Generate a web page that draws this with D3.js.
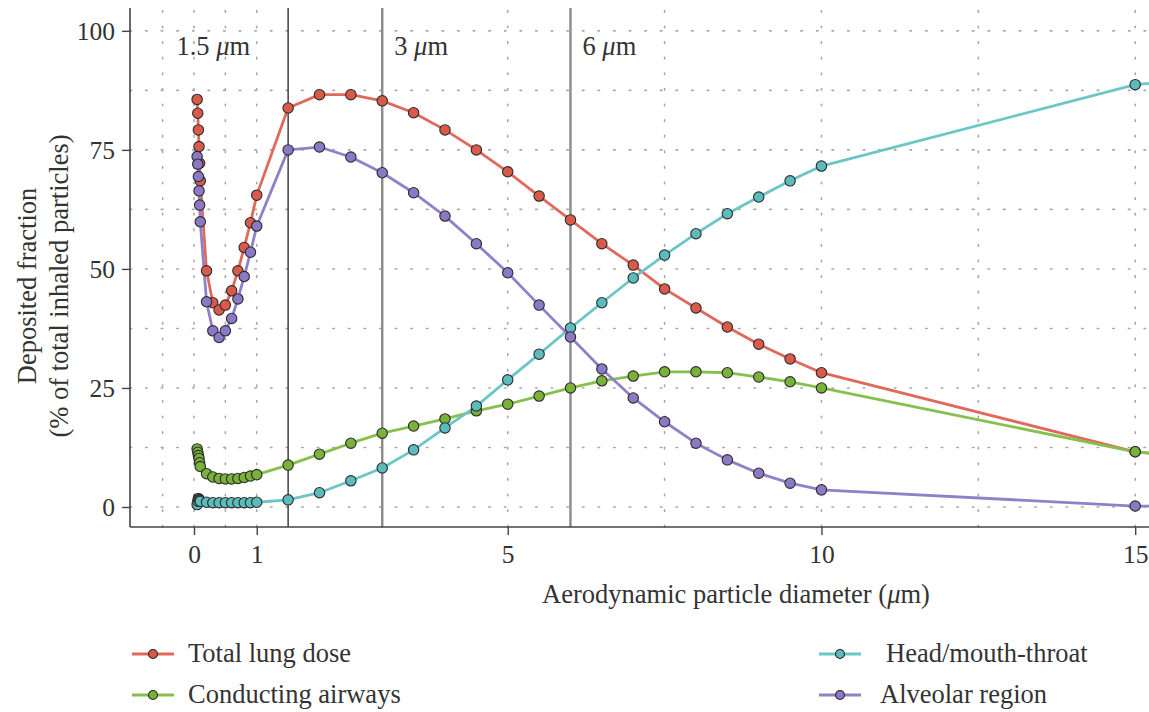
<!DOCTYPE html>
<html>
<head>
<meta charset="utf-8">
<script src="https://cdn.jsdelivr.net/npm/d3@7"></script>
<style>
  body { margin: 0; background: #fff; }
  svg text { font-family: "Liberation Serif", "DejaVu Serif", serif; fill: #333; }
</style>
</head>
<body>
<div id="chart"></div>
<script>
// particle diameters (um)
const diameters = [0.05, 0.06, 0.07, 0.08, 0.09, 0.1,
  0.2, 0.3, 0.4, 0.5, 0.6, 0.7, 0.8, 0.9, 1,
  1.5, 2, 2.5, 3, 3.5, 4, 4.5, 5, 5.5, 6, 6.5, 7, 7.5, 8, 8.5, 9, 9.5, 10, 15, 20];

// deposited fraction (% of total inhaled particles)
const totalLung = [85.6, 82.7, 79.2, 75.7, 72.2, 68.5,
  49.6, 42.9, 41.4, 42.4, 45.4, 49.6, 54.5, 59.7, 65.5,
  83.8, 86.6, 86.6, 85.3, 82.8, 79.2, 75.0, 70.4, 65.3, 60.3, 55.3, 50.8, 45.8, 41.8, 37.8, 34.2, 31.1, 28.2, 11.6, 5];
const conducting = [12.2, 11.5, 10.8, 10.2, 9.3, 8.5,
  7.0, 6.3, 6.0, 5.9, 5.9, 6.0, 6.2, 6.5, 6.8,
  8.8, 11.1, 13.4, 15.5, 17.0, 18.5, 20.2, 21.6, 23.3, 25.0, 26.5, 27.5, 28.4, 28.4, 28.2, 27.3, 26.3, 25.0, 11.6, 5];
const headMouth = [0.5, 1.2, 1.8, 1.6, 1.4, 1.2,
  1.0, 0.9, 0.9, 0.9, 0.9, 0.9, 0.9, 0.9, 1.0,
  1.5, 3.0, 5.5, 8.2, 12.0, 16.6, 21.2, 26.7, 32.1, 37.6, 42.9, 48.1, 52.9, 57.4, 61.6, 65.1, 68.5, 71.6, 88.7, 95];
const alveolar = [73.6, 72.0, 69.4, 66.4, 63.4, 59.9,
  43.1, 37.0, 35.6, 37.0, 39.6, 43.7, 48.4, 53.5, 59.0,
  75.0, 75.6, 73.5, 70.2, 66.0, 61.1, 55.3, 49.2, 42.4, 35.7, 29.0, 22.9, 17.9, 13.4, 9.9, 7.1, 5.0, 3.6, 0.2, 0];

const xTicks = [0, 1, 5, 10, 15];
const yTicks = [0, 25, 50, 75, 100];
const xMinor = [-0.5, 0.5, 3, 7.5, 12.5];
const yMinor = [12.5, 37.5, 62.5, 87.5];
const markers = [1.5, 3, 6];

const series = [
  { name: "Total lung dose", values: totalLung, line: "#e0695b", fill: "#d95a4b" },
  { name: "Conducting airways", values: conducting, line: "#86c04c", fill: "#79b13b" },
  { name: "Head/mouth-throat", values: headMouth, line: "#6cc6c6", fill: "#5cbcbd" },
  { name: "Alveolar region", values: alveolar, line: "#9180c8", fill: "#8b78c6" }
];

const width = 1149, height = 712;
const plotLeft = 130, plotRight = 1149, plotTop = 8, plotBottom = 527;
const fontSize = "26.5px";

const svg = d3.select("#chart").append("svg")
  .attr("width", width)
  .attr("height", height);

const x = d3.scaleLinear().domain([-1.02, 15.22]).range([plotLeft, plotRight]);
const y = d3.scaleLinear().domain([-4.2, 104.8]).range([plotBottom, plotTop]);

svg.append("defs").append("clipPath").attr("id", "plot")
  .append("rect").attr("x", plotLeft).attr("y", plotTop)
  .attr("width", plotRight - plotLeft).attr("height", plotBottom - plotTop);

// dotted grid
const grid = svg.append("g")
  .attr("stroke", "#a8a8a8")
  .attr("stroke-width", 1.6)
  .attr("stroke-dasharray", "1.6,14")
  .attr("stroke-linecap", "round");
grid.selectAll(".gx").data(xTicks.concat(xMinor)).join("line")
  .attr("x1", d => x(d)).attr("x2", d => x(d))
  .attr("y1", plotBottom).attr("y2", plotTop);
grid.selectAll(".gy").data(yTicks.concat(yMinor)).join("line")
  .attr("x1", plotLeft).attr("x2", plotRight)
  .attr("y1", d => y(d)).attr("y2", d => y(d));

// size marker lines
svg.append("g").selectAll("line").data(markers).join("line")
  .attr("x1", d => x(d)).attr("x2", d => x(d))
  .attr("y1", plotTop).attr("y2", plotBottom)
  .attr("stroke", (d, i) => i == 0 ? "#222" : "#8a8a8a")
  .attr("stroke-width", (d, i) => i == 0 ? 1.3 : 2.4);

const labels = svg.append("g").attr("font-size", fontSize);
markers.forEach(function (d, i) {
  let t = labels.append("text")
    .attr("x", i == 0 ? x(d) - 38 : x(d) + 12)
    .attr("y", 55)
    .attr("text-anchor", i == 0 ? "end" : "start");
  t.append("tspan").text(d + " ");
  t.append("tspan").attr("font-style", "italic").text("\u03bc");
  t.append("tspan").text("m");
});

// axes
const xAxis = svg.append("g")
  .attr("transform", `translate(0,${plotBottom})`)
  .call(d3.axisBottom(x).tickValues(xTicks).tickSize(8).tickPadding(10).tickFormat(d3.format("d")));
const yAxis = svg.append("g")
  .attr("transform", `translate(${plotLeft},0)`)
  .call(d3.axisLeft(y).tickValues(yTicks).tickSize(8).tickPadding(7).tickFormat(d3.format("d")));
[xAxis, yAxis].forEach(function (a) {
  a.select(".domain").attr("stroke", "#444").attr("stroke-width", 1.6);
  a.selectAll(".tick line").attr("stroke", "#444").attr("stroke-width", 1.4);
  a.selectAll(".tick text")
    .attr("font-family", "Liberation Serif")
    .attr("font-size", "25.5px").attr("fill", "#333");
});
// drop the domain end caps
xAxis.select(".domain").attr("d", `M${plotLeft},0H${plotRight}`);
yAxis.select(".domain").attr("d", `M0,${plotBottom}V${plotTop}`);

// axis titles
const xt = svg.append("text")
  .attr("x", 736).attr("y", 603)
  .attr("text-anchor", "middle")
  .attr("font-size", fontSize);
xt.append("tspan").text("Aerodynamic particle diameter (");
xt.append("tspan").attr("font-style", "italic").text("\u03bc");
xt.append("tspan").text("m)");

const yt = svg.append("text")
  .attr("transform", "translate(0,286) rotate(-90)")
  .attr("text-anchor", "middle")
  .attr("font-size", fontSize);
yt.append("tspan").attr("x", 0).attr("y", 36).text("Deposited fraction");
yt.append("tspan").attr("x", 0).attr("y", 68).text("(% of total inhaled particles)");

// series
const line = d3.line().x(d => x(d[0])).y(d => y(d[1]));
const plot = svg.append("g").attr("clip-path", "url(#plot)");

series.forEach(function (s) {
  plot.append("path")
    .datum(diameters.map((d, i) => [d, s.values[i]]))
    .attr("d", line)
    .attr("fill", "none")
    .attr("stroke", s.line)
    .attr("stroke-width", 2.8)
    .attr("stroke-linejoin", "round");
});
series.forEach(function (s) {
  plot.append("g").selectAll("circle")
    .data(diameters.map((d, i) => [d, s.values[i]]))
    .join("circle")
    .attr("cx", d => x(d[0]))
    .attr("cy", d => y(d[1]))
    .attr("r", 5.2)
    .attr("fill", s.fill)
    .attr("stroke", "#2b2b2b")
    .attr("stroke-width", 1.1);
});

// legend
const legendPos = [[153, 654], [153, 695], [840, 654], [840, 695]];
const legendTextX = [188, 188, 886, 880];
const legend = svg.append("g");
series.forEach(function (s, i) {
  let g = legend.append("g").attr("transform", `translate(${legendPos[i][0]},${legendPos[i][1]})`);
  g.append("line").attr("x1", -21).attr("x2", 21)
    .attr("stroke", s.line).attr("stroke-width", 2.8);
  g.append("circle").attr("r", 4.5)
    .attr("fill", s.fill).attr("stroke", "#2b2b2b").attr("stroke-width", 1.1);
  legend.append("text")
    .attr("x", legendTextX[i]).attr("y", legendPos[i][1] + 8)
    .attr("font-size", fontSize)
    .text(s.name);
});
</script>
</body>
</html>
